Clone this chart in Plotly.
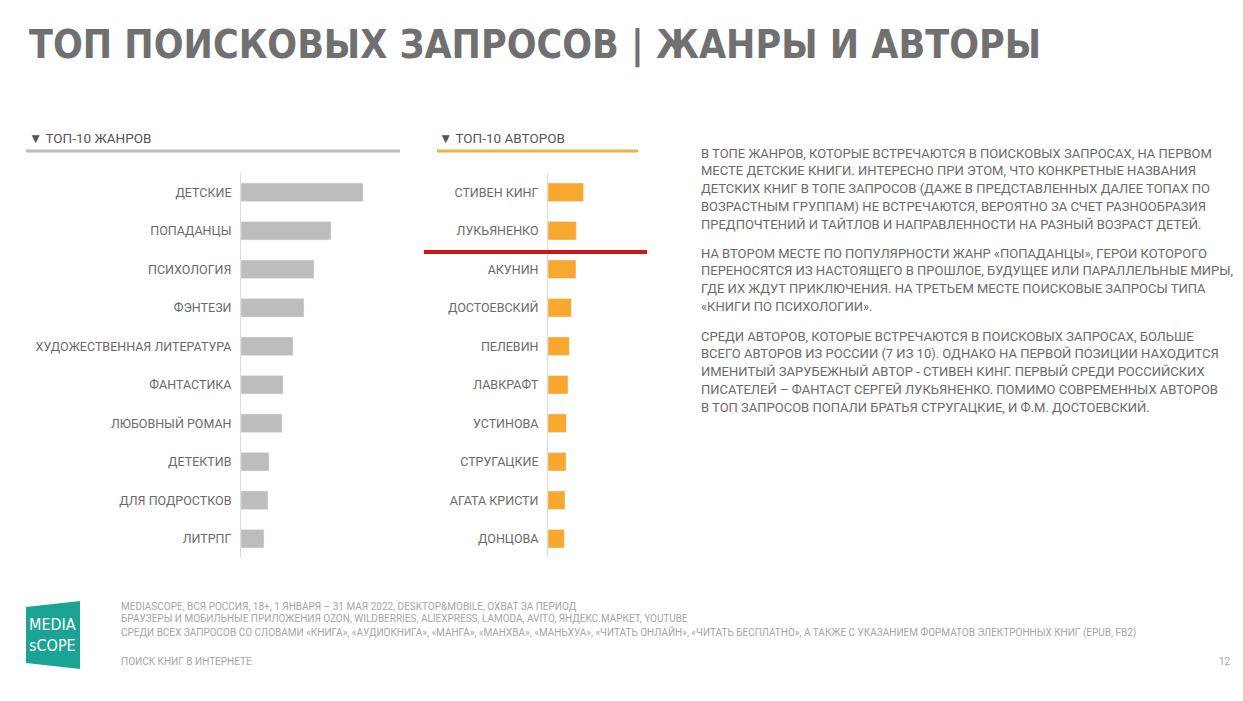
import plotly.graph_objects as go

W, H = 1243, 701

genres = ["ДЕТСКИЕ", "ПОПАДАНЦЫ", "ПСИХОЛОГИЯ", "ФЭНТЕЗИ", "ХУДОЖЕСТВЕННАЯ ЛИТЕРАТУРА",
          "ФАНТАСТИКА", "ЛЮБОВНЫЙ РОМАН", "ДЕТЕКТИВ", "ДЛЯ ПОДРОСТКОВ", "ЛИТРПГ"]
genre_values = [122, 90, 73, 63, 52, 42, 41, 28, 27, 23]

authors = ["СТИВЕН КИНГ", "ЛУКЬЯНЕНКО", "АКУНИН", "ДОСТОЕВСКИЙ", "ПЕЛЕВИН",
           "ЛАВКРАФТ", "УСТИНОВА", "СТРУГАЦКИЕ", "АГАТА КРИСТИ", "ДОНЦОВА"]
author_values = [35.5, 28.3, 28, 23.3, 21.3, 20, 18.3, 18, 17, 16.3]

title = "ТОП ПОИСКОВЫХ ЗАПРОСОВ | ЖАНРЫ И АВТОРЫ"
genre_header = "▼ ТОП-10 ЖАНРОВ"
author_header = "▼ ТОП-10 АВТОРОВ"

paragraphs = [
    ["В ТОПЕ ЖАНРОВ, КОТОРЫЕ ВСТРЕЧАЮТСЯ В ПОИСКОВЫХ ЗАПРОСАХ, НА ПЕРВОМ",
     "МЕСТЕ ДЕТСКИЕ КНИГИ. ИНТЕРЕСНО ПРИ ЭТОМ, ЧТО КОНКРЕТНЫЕ НАЗВАНИЯ",
     "ДЕТСКИХ КНИГ В ТОПЕ ЗАПРОСОВ (ДАЖЕ В ПРЕДСТАВЛЕННЫХ ДАЛЕЕ ТОПАХ ПО",
     "ВОЗРАСТНЫМ ГРУППАМ) НЕ ВСТРЕЧАЮТСЯ, ВЕРОЯТНО ЗА СЧЕТ РАЗНООБРАЗИЯ",
     "ПРЕДПОЧТЕНИЙ И ТАЙТЛОВ И НАПРАВЛЕННОСТИ НА РАЗНЫЙ ВОЗРАСТ ДЕТЕЙ."],
    ["НА ВТОРОМ МЕСТЕ ПО ПОПУЛЯРНОСТИ ЖАНР «ПОПАДАНЦЫ», ГЕРОИ КОТОРОГО",
     "ПЕРЕНОСЯТСЯ ИЗ НАСТОЯЩЕГО В ПРОШЛОЕ, БУДУЩЕЕ ИЛИ ПАРАЛЛЕЛЬНЫЕ МИРЫ,",
     "ГДЕ ИХ ЖДУТ ПРИКЛЮЧЕНИЯ. НА ТРЕТЬЕМ МЕСТЕ ПОИСКОВЫЕ ЗАПРОСЫ ТИПА",
     "«КНИГИ ПО ПСИХОЛОГИИ»."],
    ["СРЕДИ АВТОРОВ, КОТОРЫЕ ВСТРЕЧАЮТСЯ В ПОИСКОВЫХ ЗАПРОСАХ, БОЛЬШЕ",
     "ВСЕГО АВТОРОВ ИЗ РОССИИ (7 ИЗ 10). ОДНАКО НА ПЕРВОЙ ПОЗИЦИИ НАХОДИТСЯ",
     "ИМЕНИТЫЙ ЗАРУБЕЖНЫЙ АВТОР - СТИВЕН КИНГ. ПЕРВЫЙ СРЕДИ РОССИЙСКИХ",
     "ПИСАТЕЛЕЙ – ФАНТАСТ СЕРГЕЙ ЛУКЬЯНЕНКО. ПОМИМО СОВРЕМЕННЫХ АВТОРОВ",
     "В ТОП ЗАПРОСОВ ПОПАЛИ БРАТЬЯ СТРУГАЦКИЕ, И Ф.М. ДОСТОЕВСКИЙ."],
]

footer_lines = [
    "MEDIASCOPE, ВСЯ РОССИЯ, 18+, 1 ЯНВАРЯ – 31 МАЯ 2022, DESKTOP&MOBILE, ОХВАТ ЗА ПЕРИОД",
    "БРАУЗЕРЫ И МОБИЛЬНЫЕ ПРИЛОЖЕНИЯ OZON, WILDBERRIES, ALIEXPRESS, LAMODA, AVITO, ЯНДЕКС.МАРКЕТ, YOUTUBE",
    "СРЕДИ ВСЕХ ЗАПРОСОВ СО СЛОВАМИ «КНИГА», «АУДИОКНИГА», «МАНГА», «МАНХВА», «МАНЬХУА», «ЧИТАТЬ ОНЛАЙН», «ЧИТАТЬ БЕСПЛАТНО», А ТАКЖЕ С УКАЗАНИЕМ ФОРМАТОВ ЭЛЕКТРОННЫХ КНИГ (EPUB, FB2)",
]
footer_section = "ПОИСК КНИГ В ИНТЕРНЕТЕ"
page_number = "12"


def px(x):
    return x / W


def py(y):
    return 1 - y / H


GREY_BAR = "#bdbdbd"
ORANGE_BAR = "#f8a82e"
TEXT = "#6a6a6a"
FONT = "Roboto, 'Noto Sans', sans-serif"
COND = "'DejaVu Sans Condensed', 'Liberation Sans Narrow', sans-serif"

fig = go.Figure()
fig.add_trace(go.Bar(x=genre_values, y=genres, orientation="h", marker_color=GREY_BAR,
                     xaxis="x", yaxis="y", hoverinfo="x+y"))
fig.add_trace(go.Bar(x=author_values, y=authors, orientation="h", marker_color=ORANGE_BAR,
                     xaxis="x2", yaxis="y2", hoverinfo="x+y"))

ydom = [py(558), py(173)]
common_y = dict(type="category", autorange="reversed", domain=ydom, showgrid=False,
                showline=True, linecolor="#dcdcdc", linewidth=1, ticks="outside",
                ticklen=6, tickcolor="rgba(0,0,0,0)", zeroline=False,
                tickfont=dict(family=FONT, size=12.5, color=TEXT))
common_x = dict(showgrid=False, showline=False, zeroline=False, showticklabels=False,
                fixedrange=True)

fig.update_layout(
    width=W, height=H, margin=dict(l=0, r=0, t=0, b=0),
    paper_bgcolor="white", plot_bgcolor="white", showlegend=False, bargap=0.52,
    xaxis=dict(domain=[px(241), px(400)], range=[0, 159], anchor="y", **common_x),
    yaxis=dict(anchor="x", **common_y),
    xaxis2=dict(domain=[px(548), px(638)], range=[0, 90], anchor="y2", **common_x),
    yaxis2=dict(anchor="x2", **common_y),
    font=dict(family=FONT, color=TEXT),
)

shapes = [
    dict(type="line", xref="paper", yref="paper", x0=px(26), x1=px(400), y0=py(151), y1=py(151),
         line=dict(color="#bcbcbc", width=3)),
    dict(type="line", xref="paper", yref="paper", x0=px(437), x1=px(638), y0=py(151), y1=py(151),
         line=dict(color="#eab34e", width=3)),
    dict(type="line", xref="paper", yref="paper", x0=px(424), x1=px(647), y0=py(252), y1=py(252),
         line=dict(color="#d0141c", width=4)),
    dict(type="path", xref="paper", yref="paper",
         path=f"M {px(26)},{py(607)} L {px(80)},{py(601)} L {px(80)},{py(669)} L {px(26)},{py(663)} Z",
         fillcolor="#1ba393", line=dict(width=0)),
]
fig.update_layout(shapes=shapes)

ann = []
ann.append(dict(text=title, x=px(27), y=py(45), xref="paper", yref="paper", xanchor="left",
                yanchor="middle", showarrow=False,
                font=dict(family=COND, size=39, color="#707070", weight="bold")))
ann.append(dict(text=genre_header, x=px(27), y=py(138), xref="paper", yref="paper", xanchor="left",
                yanchor="middle", showarrow=False, font=dict(family=FONT, size=13.5, color="#555555")))
ann.append(dict(text=author_header, x=px(437), y=py(138), xref="paper", yref="paper", xanchor="left",
                yanchor="middle", showarrow=False, font=dict(family=FONT, size=13.5, color="#555555")))

para_starts = [153, 253, 336]
for start, lines in zip(para_starts, paragraphs):
    for i, line in enumerate(lines):
        ann.append(dict(text=line, x=px(699), y=py(start + i * 17.8), xref="paper", yref="paper",
                        xanchor="left", yanchor="middle", showarrow=False,
                        font=dict(family=FONT, size=13, color=TEXT)))

footer_y = [606, 618, 632]
for yv, line in zip(footer_y, footer_lines):
    ann.append(dict(text=line, x=px(119), y=py(yv), xref="paper", yref="paper", xanchor="left",
                    yanchor="middle", showarrow=False,
                    font=dict(family=FONT, size=10, color="#a6a6a6")))
ann.append(dict(text=footer_section, x=px(119), y=py(661), xref="paper", yref="paper",
                xanchor="left", yanchor="middle", showarrow=False,
                font=dict(family=FONT, size=10, color="#a6a6a6")))
ann.append(dict(text=page_number, x=px(1233), y=py(661), xref="paper", yref="paper",
                xanchor="right", yanchor="middle", showarrow=False,
                font=dict(family=FONT, size=10, color="#a6a6a6")))
ann.append(dict(text="MEDIA<br>sCOPE", x=px(53), y=py(635), xref="paper", yref="paper",
                xanchor="center", yanchor="middle", showarrow=False,
                font=dict(family=COND, size=16, color="white")))
fig.update_layout(annotations=ann)

fig.write_html("out.html", config={"displayModeBar": False},
               post_script="document.body.style.margin='0';")
